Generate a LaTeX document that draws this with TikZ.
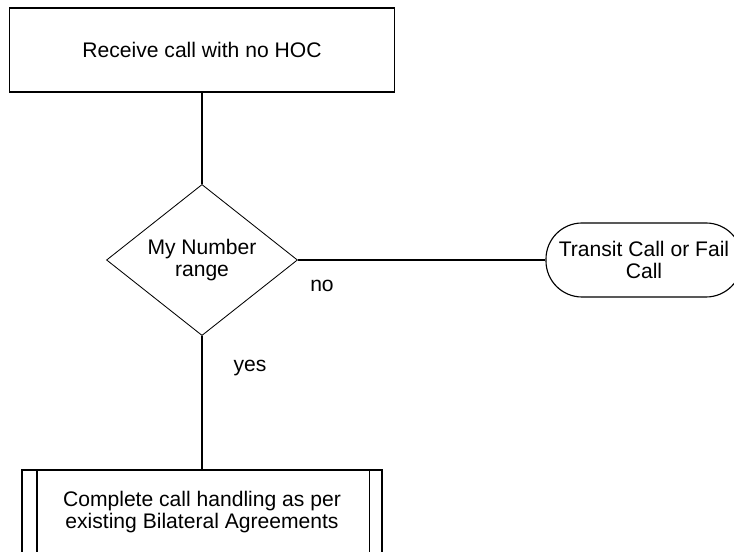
\documentclass[tikz,border=0pt]{standalone}
\usepackage{fontspec}
\setmainfont{Liberation Sans}
\usepackage{tikz}
\usetikzlibrary{shapes,calc}
\tikzstyle{link}=[line width=1.1pt]
\tikzstyle{stepbox}=[draw, line width=1.1pt, minimum width=9.625cm, minimum height=2.1cm, align=center]
\tikzstyle{procbox}=[draw, line width=1.1pt, minimum width=9cm, minimum height=2.1cm, align=center]
\tikzstyle{decision}=[diamond, draw, line width=0.6pt, minimum width=4.775cm, minimum height=3.55cm, inner sep=0pt, align=center]
\tikzstyle{terminal}=[draw, rounded corners=0.9cm, line width=0.8pt, minimum width=4.9cm, minimum height=1.85cm, inner sep=0pt, align=center]
\newcommand{\txt}{\fontsize{15}{16}\selectfont}

\begin{document}
\begin{tikzpicture}[font=\txt]
	\useasboundingbox (0,0) rectangle (18.35,13.8);
	\node[stepbox] (recv) at (5.05,12.55) {Receive call with no HOC};
	\node[decision] (range) at (5.05,7.3) {My Number\\range};
	\node[terminal] (transit) at (16.1,7.3) {Transit Call or Fail\\Call};
	\node[procbox] (agree) at (5.05,1.0) {Complete call handling as per\\existing Bilateral Agreements};
	\draw[link] ($(agree.north west)+(0.4,0)$) -- ($(agree.south west)+(0.4,0)$);
	\draw[link] ($(agree.north east)+(-0.33,0)$) -- ($(agree.south east)+(-0.33,0)$);
	\draw[link] (recv) -- (range);
	\draw[link] (range) -- (transit);
	\draw[link] (range) -- (agree);
	\node (no) at (8.05,6.65) {no};
	\node (yes) at (6.25,4.6) {yes};
\end{tikzpicture}
\end{document}
